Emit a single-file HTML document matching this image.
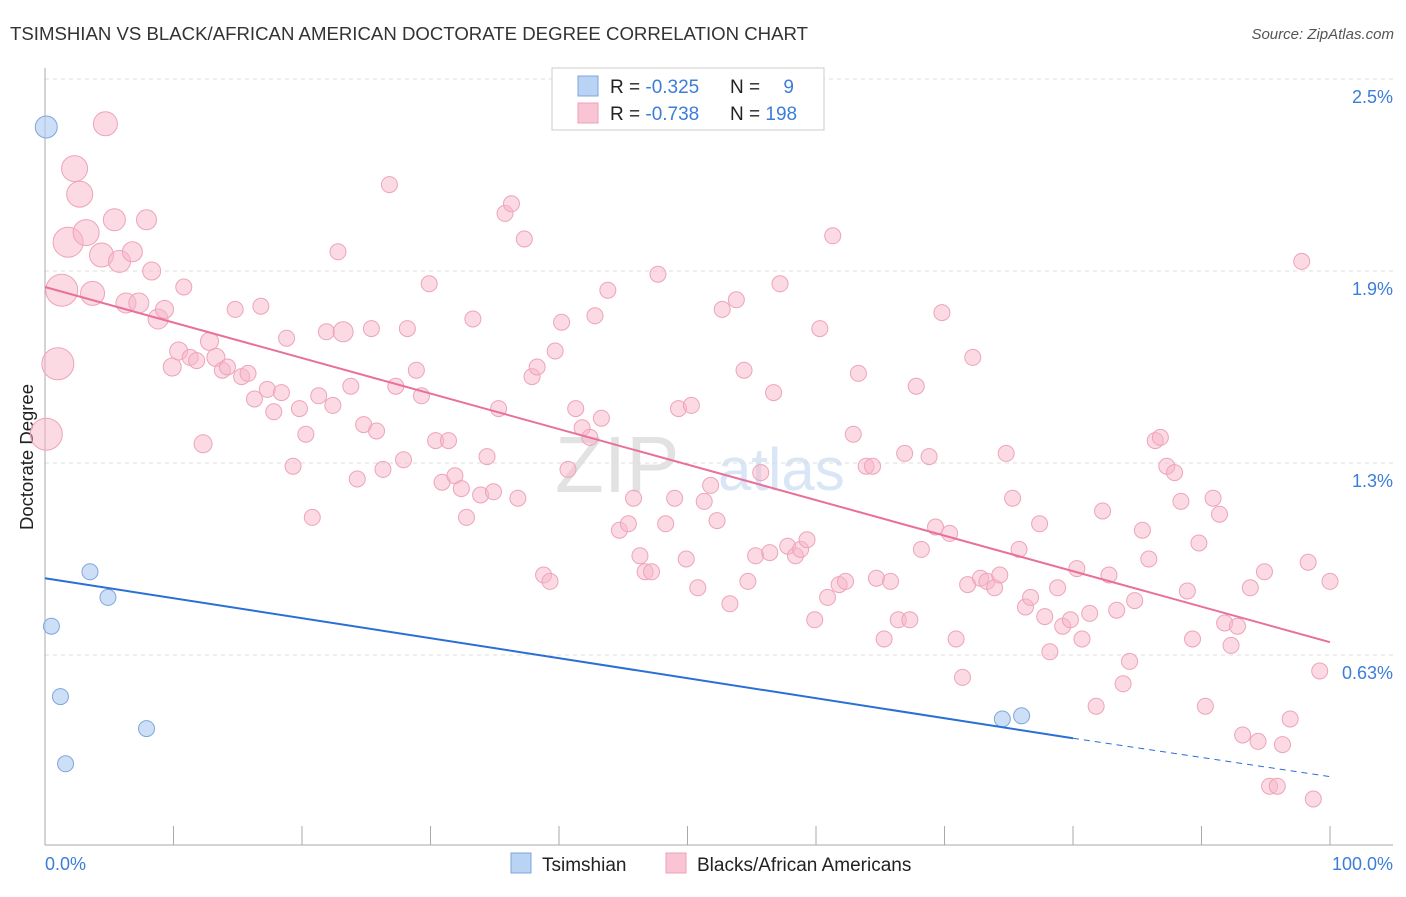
<!DOCTYPE html>
<html><head><meta charset="utf-8"><style>
body{margin:0;background:#fff;font-family:"Liberation Sans",sans-serif;}
svg text{font-family:"Liberation Sans",sans-serif;}
</style></head><body>
<svg id="chart" width="1406" height="892" xmlns="http://www.w3.org/2000/svg">
<text x="10" y="40" font-size="18" fill="#333" textLength="798" lengthAdjust="spacingAndGlyphs">TSIMSHIAN VS BLACK/AFRICAN AMERICAN DOCTORATE DEGREE CORRELATION CHART</text>
<text x="1394" y="39" font-size="15" fill="#555" font-style="italic" text-anchor="end">Source: ZipAtlas.com</text>
<text transform="translate(33,457) rotate(-90)" font-size="18.5" fill="#222" text-anchor="middle">Doctorate Degree</text>
<g><text x="555" y="492" font-size="80" fill="#e2e2e2" font-family="Liberation Serif">ZIP</text><text x="718" y="490" font-size="60" fill="#d8e6f5">atlas</text></g>
<g id="grid"></g><g id="axes"></g><g id="pts"></g><g id="lines"></g>
<g>
<rect x="552" y="68" width="272" height="62" fill="#fff" stroke="#ccc"/>
<rect x="578" y="76" width="20" height="20" fill="#b9d3f5" stroke="#7fa6dc"/>
<rect x="578" y="103" width="20" height="20" fill="#f9c4d4" stroke="#eda0b8"/>
<text x="610" y="93" font-size="19" fill="#222">R = <tspan fill="#3b7dd8">-0.325</tspan></text>
<text x="730" y="93" font-size="19" fill="#222">N = <tspan fill="#3b7dd8" dx="18">9</tspan></text>
<text x="610" y="120" font-size="19" fill="#222">R = <tspan fill="#3b7dd8">-0.738</tspan></text>
<text x="730" y="120" font-size="19" fill="#222">N = <tspan fill="#3b7dd8">198</tspan></text>
</g>
<g>
<rect x="511" y="853" width="20" height="20" fill="#b9d3f5" stroke="#7fa6dc"/>
<text x="542" y="871" font-size="19" fill="#222">Tsimshian</text>
<rect x="666" y="853" width="20" height="20" fill="#f9c4d4" stroke="#eda0b8"/>
<text x="697" y="871" font-size="19" fill="#222">Blacks/African Americans</text>
</g>
</svg>
<script>
const yTicks=[2.5,1.9,1.3,0.7];
const yTickLabels=["2.5%","1.9%","1.3%","0.63%"];
const xTickLabels=["0.0%","100.0%"];
const pinkX=[0.1,1.0,1.3,1.8,2.3,2.7,3.2,3.7,4.4,4.7,5.4,5.8,6.3,6.8,7.3,7.9,8.3,8.8,9.3,9.9,10.4,10.8,11.3,11.8,12.3,12.8,13.3,13.8,14.2,14.8,15.3,15.8,16.3,16.8,17.3,17.8,18.4,18.8,19.3,19.8,20.3,20.8,21.3,21.9,22.4,22.8,23.2,23.8,24.3,24.8,25.4,25.8,26.3,26.8,27.3,27.9,28.2,28.9,29.3,29.9,30.4,30.9,31.4,31.9,32.4,32.8,33.3,33.9,34.4,34.9,35.3,35.8,36.3,36.8,37.3,37.9,38.3,38.8,39.3,39.7,40.2,40.7,41.3,41.8,42.4,42.8,43.3,43.8,44.7,45.4,45.8,46.3,46.7,47.2,47.7,48.3,49.0,49.3,49.9,50.3,50.8,51.3,51.8,52.3,52.7,53.3,53.8,54.4,54.7,55.3,55.7,56.4,56.7,57.2,57.8,58.4,58.8,59.3,59.9,60.3,60.9,61.3,61.8,62.3,62.9,63.3,63.9,64.4,64.7,65.3,65.8,66.4,66.9,67.3,67.8,68.2,68.8,69.3,69.8,70.4,70.9,71.4,71.8,72.2,72.8,73.3,73.9,74.3,74.8,75.3,75.8,76.3,76.7,77.4,77.8,78.2,78.8,79.2,79.8,80.3,80.7,81.3,81.8,82.3,82.8,83.4,83.9,84.4,84.8,85.4,85.9,86.4,86.8,87.3,87.9,88.4,88.9,89.3,89.8,90.3,90.9,91.4,91.8,92.3,92.8,93.2,93.8,94.4,94.9,95.3,95.9,96.3,96.9,97.8,98.3,98.7,99.2,100];
const pinkY=[1.39,1.61,1.84,1.99,2.22,2.14,2.02,1.83,1.95,2.36,2.06,1.93,1.80,1.96,1.80,2.06,1.90,1.75,1.78,1.60,1.65,1.85,1.63,1.62,1.36,1.68,1.63,1.59,1.60,1.78,1.57,1.58,1.50,1.79,1.53,1.46,1.52,1.69,1.29,1.47,1.39,1.13,1.51,1.71,1.48,1.96,1.71,1.54,1.25,1.42,1.72,1.40,1.28,2.17,1.54,1.31,1.72,1.59,1.51,1.86,1.37,1.24,1.37,1.26,1.22,1.13,1.75,1.20,1.32,1.21,1.47,2.08,2.11,1.19,2.00,1.57,1.60,0.95,0.93,1.65,1.74,1.28,1.47,1.41,1.38,1.76,1.44,1.84,1.09,1.11,1.19,1.01,0.96,0.96,1.89,1.11,1.19,1.47,1.00,1.48,0.91,1.18,1.23,1.12,1.78,0.86,1.81,1.59,0.93,1.01,1.27,1.02,1.52,1.86,1.04,1.01,1.03,1.06,0.81,1.72,0.88,2.01,0.92,0.93,1.39,1.58,1.29,1.29,0.94,0.75,0.93,0.81,1.33,0.81,1.54,1.03,1.32,1.10,1.77,1.08,0.75,0.63,0.92,1.63,0.94,0.93,0.91,0.95,1.33,1.19,1.03,0.85,0.88,1.11,0.82,0.71,0.91,0.79,0.81,0.97,0.75,0.83,0.54,1.15,0.95,0.84,0.61,0.68,0.87,1.09,1.00,1.37,1.38,1.29,1.27,1.18,0.90,0.75,1.05,0.54,1.19,1.14,0.80,0.73,0.79,0.45,0.91,0.43,0.96,0.29,0.29,0.42,0.50,1.93,0.99,0.25,0.65,0.93];
const pinkR=[16,16,16,15,13,13,13,12,12,12,11,11,10,10,10,10,9,10,9,9,9,8,8,8,9,9,9,8,8,8,8,8,8,8,8,8,8,8,8,8,8,8,8,8,8,8,10];
const blueX=[0.1,0.5,1.2,1.6,3.5,4.9,7.9,74.5,76.0];
const blueY=[2.35,0.79,0.57,0.36,0.96,0.88,0.47,0.50,0.51];
const blueR=[11,8,8,8,8,8,8,8,8];
const pinkTrend=[[0,1.85],[100,0.74]];
const blueTrend=[[0,0.94],[80,0.44],[100,0.32]];
const NS="http://www.w3.org/2000/svg";
const X=v=>45+v*12.85, Y=v=>79+(2.5-v)*320;
function mk(tag,attrs,parent){const e=document.createElementNS(NS,tag);for(const k in attrs)e.setAttribute(k,attrs[k]);document.getElementById(parent).appendChild(e);return e;}
yTicks.forEach((t,i)=>{
 const l=mk('line',{x1:45,x2:1393,y1:Y(t),y2:Y(t),stroke:'#ddd','stroke-dasharray':'4,4'},'grid');
 
 
 const tx=mk('text',{x:1393,y:Y(t)+24,'font-size':18,fill:'#3b7dd8','text-anchor':'end'},'grid');
 tx.textContent=yTickLabels[i];
 
 
});
const a1=mk('line',{x1:45,x2:45,y1:68,y2:845,stroke:'#aaa'},'axes');


const a2=mk('line',{x1:45,x2:1393,y1:845,y2:845,stroke:'#aaa'},'axes');


for(let i=1;i<=10;i++){const t=mk('line',{x1:X(i*10),x2:X(i*10),y1:826,y2:845,stroke:'#aaa'},'axes');
 
 }
[[0,'start',45],[100,'end',1393]].forEach((d,i)=>{const t=mk('text',{x:d[2],y:870,'font-size':18,fill:'#3b7dd8','text-anchor':d[1]},'axes');t.textContent=xTickLabels[i];
 
 });
pinkX.forEach((x,i)=>{const c=mk('circle',{cx:X(x),cy:Y(pinkY[i]),r:pinkR[i]||8,fill:'rgba(248,182,202,0.5)',stroke:'#eea3bb','stroke-width':1},'pts');
 
 });
blueX.forEach((x,i)=>{const c=mk('circle',{cx:X(x),cy:Y(blueY[i]),r:blueR[i],fill:'rgba(178,206,243,0.65)',stroke:'#7fa6dc','stroke-width':1},'pts');
 
 });
const pl=mk('line',{x1:X(pinkTrend[0][0]),y1:Y(pinkTrend[0][1]),x2:X(pinkTrend[1][0]),y2:Y(pinkTrend[1][1]),stroke:'#e8709a','stroke-width':2},'lines');


const bl=mk('line',{x1:X(blueTrend[0][0]),y1:Y(blueTrend[0][1]),x2:X(blueTrend[1][0]),y2:Y(blueTrend[1][1]),stroke:'#2a6fd6','stroke-width':2},'lines');


const bd=mk('line',{x1:X(blueTrend[1][0]),y1:Y(blueTrend[1][1]),x2:X(blueTrend[2][0]),y2:Y(blueTrend[2][1]),stroke:'#2a6fd6','stroke-width':1,'stroke-dasharray':'6,5'},'lines');


</script>
</body></html>
